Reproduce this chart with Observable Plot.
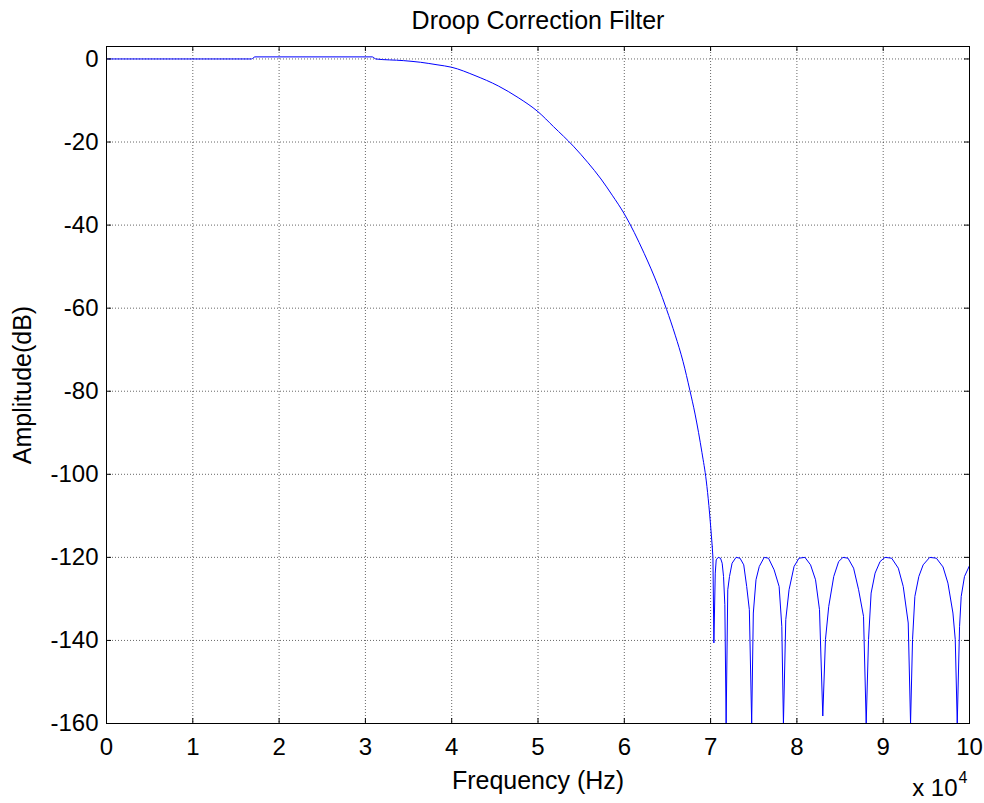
<!DOCTYPE html>
<html><head><meta charset="utf-8">
<script src="https://cdn.jsdelivr.net/npm/d3@7"></script>
<script src="https://cdn.jsdelivr.net/npm/@observablehq/plot@0.6"></script>
<style>html,body{margin:0;padding:0;background:#fff;} svg{display:block;}</style>
</head><body><div id="chart"></div>
<script>
// ---- text ----
const titleText = "Droop Correction Filter";
const xLabelText = "Frequency (Hz)";
const yLabelText = "Amplitude(dB)";
const xExpBase = "x 10";
const xExpPow = "4";

// ---- ticks ----
const xTicks = [0, 1, 2, 3, 4, 5, 6, 7, 8, 9, 10];           // ×10^4 Hz
const yTicks = [-160, -140, -120, -100, -80, -60, -40, -20, 0];

// ---- passband + transition (frequency in ×10^4 Hz, amplitude in dB) ----
const passFreq = [0, 1.68, 1.72, 3.08, 3.12, 3.44, 3.64, 3.83, 4.0, 4.27, 4.54, 4.77, 5.0, 5.18,
  5.41, 5.58, 5.73, 5.86, 6.0, 6.23, 6.39, 6.49, 6.59, 6.68, 6.76, 6.82, 6.90, 6.95, 6.98, 7.019];
const passAmp = [0, 0, 0.5, 0.5, 0, -0.4, -0.8, -1.4, -2.0, -4.0, -6.5, -9.3, -12.7, -16.3,
  -21.0, -25.0, -28.9, -32.8, -37.3, -46.8, -54.6, -60.3, -66.5, -72.8, -79.8, -85.5, -94.8, -101.6, -107.5, -117.4];

// ---- stopband ----
const stopFreq = [
  7.027, 7.038, 7.054, 7.065, 7.088, 7.115, 7.134, 7.150, 7.165, 7.180,
  7.199, 7.219, 7.249, 7.295, 7.341, 7.384, 7.418, 7.449, 7.476,
  7.495, 7.526, 7.564, 7.621, 7.671, 7.736, 7.794, 7.825, 7.844,
  7.871, 7.909, 7.967, 8.024, 8.093, 8.158, 8.216, 8.262, 8.300,
  8.331, 8.369, 8.427, 8.484, 8.534, 8.592, 8.657, 8.715, 8.772, 8.803,
  8.830, 8.860, 8.906, 8.964, 9.021, 9.098, 9.175, 9.232, 9.290, 9.317,
  9.340, 9.367, 9.413, 9.463, 9.539, 9.616, 9.693, 9.750, 9.808, 9.835, 9.858,
  9.885, 9.904, 9.942, 10.0];
const stopAmp = [
  -120, -140.6, -123.8, -120.6, -120, -120.2, -121.4, -124.6, -131.4, -160,
  -127.8, -124.6, -121.4, -120, -120.2, -121.8, -127, -132.6, -160,
  -133.4, -125.4, -122.2, -120, -120.2, -123, -127, -136.6, -160,
  -135, -127.8, -122.2, -120.2, -120, -121.8, -125.4, -132.6, -158.2,
  -139.8, -131.8, -124.6, -121, -120, -120.2, -122.6, -127.8, -134.2, -160,
  -139.8, -128.6, -123.8, -121, -120, -120.2, -122.6, -127, -135.8, -160,
  -139.8, -129.4, -124.6, -121.8, -120, -120.2, -122.3, -126.2, -133.4, -139.8, -160,
  -136.6, -129.4, -124.6, -122];

const passData = passFreq.map((f, i) => ({f, a: passAmp[i]}));
const stopData = [passData[passData.length - 1]].concat(stopFreq.map((f, i) => ({f, a: stopAmp[i]})));

// ---- layout ----
const W = 984, H = 803, ML = 106, MR = 15, MT = 46, MB = 80;
const PW = W - ML - MR, PH = H - MT - MB, TK = 5;
const font = "'Liberation Sans', Arial, Helvetica, sans-serif";

const chart = Plot.plot({
  width: W, height: H,
  marginLeft: ML, marginRight: MR, marginTop: MT, marginBottom: MB,
  style: {fontFamily: font, background: "#fff", color: "#000", overflow: "visible"},
  x: {domain: [0, 10]},
  y: {domain: [-160, 3]},
  marks: [
    Plot.gridX(xTicks, {stroke: "#000", strokeOpacity: 0.6, strokeDasharray: "1,2", strokeWidth: 1}),
    Plot.gridY(yTicks, {stroke: "#000", strokeOpacity: 0.6, strokeDasharray: "1,2", strokeWidth: 1}),
    Plot.line(passData, {x: "f", y: "a", stroke: "#0000ff", strokeWidth: 1, curve: "monotone-x", clip: true}),
    Plot.line(stopData, {x: "f", y: "a", stroke: "#0000ff", strokeWidth: 1, clip: true}),
    Plot.ruleX(xTicks, {x: d => d, insetTop: PH - TK, stroke: "#000"}),
    Plot.ruleX(xTicks, {x: d => d, insetBottom: PH - TK, stroke: "#000"}),
    Plot.ruleY(yTicks, {y: d => d, insetRight: PW - TK, stroke: "#000"}),
    Plot.ruleY(yTicks, {y: d => d, insetLeft: PW - TK, stroke: "#000"}),
    Plot.frame({stroke: "#000", strokeWidth: 1}),
    Plot.axisX(xTicks, {tickSize: 0, tickPadding: 14, fontSize: 24, label: null, tickFormat: d => String(d)}),
    Plot.axisY(yTicks, {tickSize: 0, tickPadding: 8, fontSize: 24, label: null, tickFormat: d => String(d)}),
    Plot.text([titleText], {text: d => d, frameAnchor: "top", textAnchor: "middle", lineAnchor: "middle", dy: -26, fontSize: 25}),
    Plot.text([xLabelText], {text: d => d, frameAnchor: "bottom", textAnchor: "middle", lineAnchor: "middle", dy: 57, fontSize: 25}),
    Plot.text([yLabelText], {text: d => d, frameAnchor: "left", textAnchor: "middle", lineAnchor: "middle", dx: -84, rotate: -90, fontSize: 25}),
    Plot.text([xExpBase], {text: d => d, frameAnchor: "bottom-right", textAnchor: "end", lineAnchor: "middle", dx: -12, dy: 65, fontSize: 24}),
    Plot.text([xExpPow], {text: d => d, frameAnchor: "bottom-right", textAnchor: "start", lineAnchor: "middle", dx: -11, dy: 54, fontSize: 16})
  ]
});
document.getElementById("chart").appendChild(chart);
</script>
</body></html>
